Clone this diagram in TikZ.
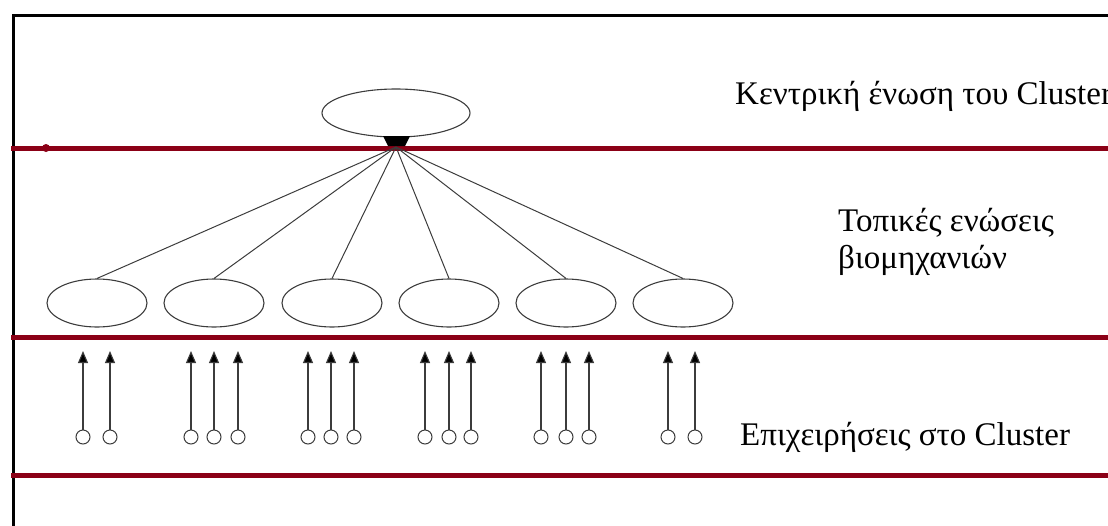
\documentclass[tikz,border=0pt]{standalone}
\usepackage{fontspec}
\setmainfont{Liberation Serif}
\usetikzlibrary{arrows.meta,shapes.geometric}
\definecolor{bandred}{RGB}{139,0,22}
\definecolor{thinline}{RGB}{60,60,60}
\begin{document}
\begin{tikzpicture}[x=1pt,y=-1pt,
  frameline/.style={line width=3pt,black},
  redline/.style={line width=5pt,bandred},
  bigell/.style={ellipse,draw=thinline,line width=1.1pt,minimum width=148pt,minimum height=48pt,inner sep=0pt},
  smallell/.style={ellipse,draw=thinline,line width=1.1pt,minimum width=100pt,minimum height=48pt,inner sep=0pt},
  firm/.style={circle,draw=thinline,line width=1pt,minimum size=14pt,inner sep=0pt},
  fan/.style={thinline,line width=1pt},
  uparrow/.style={thinline,line width=1.1pt,-{Triangle[length=12pt,width=10pt,fill=black]}},
  label/.style={anchor=base west,inner sep=0pt,font=\fontsize{33}{37}\selectfont,align=left}
]
\useasboundingbox (0,0) rectangle (1108,525);
\clip (0,0) rectangle (1108,525);
% frame
\draw[frameline] (13,526) -- (13,15) -- (1110,15);
% red bands
\draw[redline] (11,148) -- (1110,148);
\fill[bandred] (46,148) circle (4pt);
\draw[redline] (11,337) -- (1110,337);
\draw[redline] (11,475) -- (1110,475);
% central union
\node[bigell] (c) at (396,113) {};
\fill[black] (383,136) -- (410,136) -- (405,146) -- (388,146) -- cycle;
\coordinate (hub) at (396,147);
% local unions
\foreach \i/\x in {1/97,2/214,3/332,4/449,5/566,6/683}{
  \node[smallell] (l\i) at (\x,303) {};
  \draw[fan] (hub) -- (l\i.north);
}
% firms
\coordinate (tips) at (0,351);
\foreach \n/\x in {a1/83,a2/110,b1/191,b2/214,b3/238,c1/308,c2/331,c3/354,d1/425,d2/449,d3/471,e1/541,e2/566,e3/589,f1/668,f2/695}{
  \node[firm] (\n) at (\x,437) {};
  \draw[uparrow] (\n.north) -- (\n |- tips);
}
% labels
\node[label] (t1) at (735,104) {Κεντρική ένωση του Cluster};
\node[label] (t2) at (838,268) {Τοπικές ενώσεις\\βιομηχανιών};
\node[label] (t3) at (740,445) {Επιχειρήσεις στο Cluster};
\end{tikzpicture}
\end{document}
